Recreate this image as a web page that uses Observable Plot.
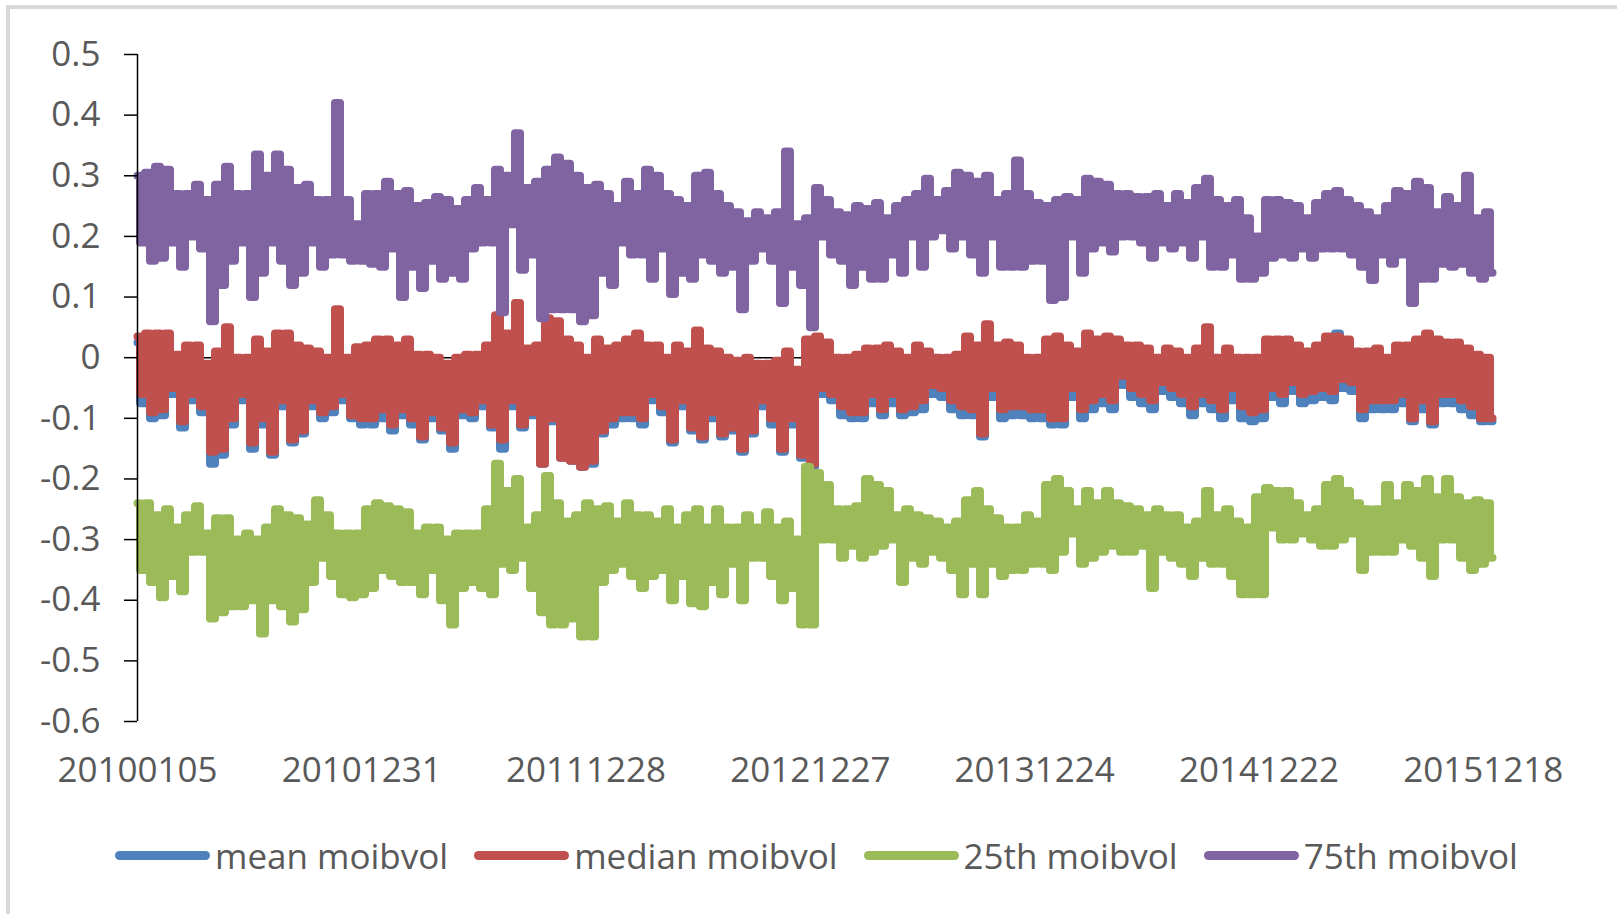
<!DOCTYPE html>
<html><head><meta charset="utf-8">
<script src="https://cdn.jsdelivr.net/npm/d3@7"></script>
<script src="https://cdn.jsdelivr.net/npm/@observablehq/plot@0.6"></script>
<style>
body{margin:0;background:#fff;font-family:"Open Sans",sans-serif;}
#frame{position:relative;width:1617px;height:914px;overflow:hidden;background:#fff;}
#border{position:absolute;left:6px;top:5px;width:1700px;height:1000px;border:4px solid #d9d9d9;box-sizing:border-box;}
#chart{position:absolute;left:0;top:0;}
#legend{position:absolute;left:115px;top:829px;height:52px;display:flex;align-items:center;gap:26px;font-size:35px;color:#595959;white-space:nowrap;}
.item{display:flex;align-items:center;}
.sw{width:95px;height:9px;border-radius:5px;margin-right:5px;}
</style></head><body>
<div id="frame"><div id="border"></div><div id="chart"></div><div id="legend"></div></div>
<script>
const seriesNames = ["mean moibvol", "median moibvol", "25th moibvol", "75th moibvol"];
const seriesColors = ["#4F81BD", "#C0504D", "#9BBB59", "#8064A2"];
const tickLabels = ["20100105", "20101231", "20111228", "20121227", "20131224", "20141222", "20151218"];
const daysPerTick = 242;
const totalDays = 1462;
const yTicks = [0.5, 0.4, 0.3, 0.2, 0.1, 0, -0.1, -0.2, -0.3, -0.4, -0.5, -0.6];

// each pair = (high, low) of the trace within one short stretch of trading days
const meanVals = [
0.025,-0.075, 0.03,-0.1, 0.03,-0.095, 0.03,-0.06, 0.0,-0.115, 0.01,-0.07, 0.01,-0.09, -0.02,-0.175, 0.0,-0.16, 0.04,-0.11,
-0.01,-0.07, -0.01,-0.15, 0.02,-0.11, 0.0,-0.16, 0.03,-0.08, 0.03,-0.14, 0.01,-0.125, 0.005,-0.08, 0.0,-0.1, -0.01,-0.09,
0.07,-0.07, -0.01,-0.1, 0.01,-0.11, 0.01,-0.11, 0.02,-0.1, 0.02,-0.12, 0.01,-0.095, 0.02,-0.11, 0.0,-0.135, 0.0,-0.1,
-0.01,-0.12, -0.02,-0.15, -0.01,-0.095, 0.0,-0.1, 0.0,-0.08, 0.01,-0.115, 0.06,-0.15, 0.03,-0.08, 0.08,-0.115, 0.01,-0.095,
0.01,-0.175, 0.055,-0.105, 0.05,-0.165, 0.02,-0.17, 0.01,-0.18, -0.01,-0.175, 0.02,-0.125, 0.005,-0.11, 0.01,-0.1, 0.02,-0.1,
0.03,-0.11, 0.01,-0.07, 0.01,-0.09, -0.01,-0.14, 0.01,-0.08, 0.0,-0.12, 0.035,-0.135, 0.005,-0.1, 0.0,-0.13, -0.01,-0.12,
-0.015,-0.155, -0.01,-0.125, -0.02,-0.08, -0.02,-0.11, -0.015,-0.155, 0.0,-0.11, -0.03,-0.165, 0.02,-0.18, 0.025,-0.06, 0.015,-0.07,
-0.01,-0.095, -0.01,-0.1, -0.005,-0.1, 0.005,-0.075, 0.005,-0.095, 0.01,-0.075, 0.0,-0.095, -0.01,-0.09, 0.01,-0.085, 0.0,-0.06,
-0.01,-0.065, -0.01,-0.085, -0.005,-0.095, 0.025,-0.095, 0.01,-0.13, 0.045,-0.065, 0.01,-0.1, 0.015,-0.095, 0.01,-0.095, -0.01,-0.1,
-0.01,-0.1, 0.02,-0.11, 0.025,-0.11, 0.01,-0.065, 0.0,-0.1, 0.03,-0.085, 0.02,-0.075, 0.025,-0.085, 0.02,-0.045, 0.01,-0.065,
0.01,-0.075, 0.005,-0.085, -0.01,-0.055, 0.005,-0.065, 0.0,-0.075, -0.01,-0.095, 0.005,-0.075, 0.04,-0.085, -0.01,-0.1, 0.005,-0.07,
-0.01,-0.1, -0.01,-0.105, -0.01,-0.1, 0.02,-0.065, 0.02,-0.075, 0.02,-0.055, 0.01,-0.075, 0.0,-0.07, 0.01,-0.065, 0.025,-0.07,
0.04,-0.05, 0.02,-0.055, 0.0,-0.1, 0.0,-0.085, 0.005,-0.085, -0.01,-0.085, 0.01,-0.075, 0.01,-0.105, 0.02,-0.085, 0.03,-0.11,
0.02,-0.075, 0.015,-0.075, 0.015,-0.085, 0.005,-0.095, -0.005,-0.105, -0.01,-0.105
];
const medianVals = [
0.035,-0.06, 0.04,-0.09, 0.04,-0.085, 0.04,-0.05, 0.005,-0.105, 0.02,-0.06, 0.02,-0.08, -0.01,-0.155, 0.01,-0.15, 0.05,-0.1,
0.0,-0.06, 0.0,-0.14, 0.03,-0.1, 0.01,-0.155, 0.04,-0.07, 0.04,-0.135, 0.02,-0.12, 0.015,-0.07, 0.01,-0.09, 0.0,-0.08,
0.08,-0.06, 0.0,-0.095, 0.017,-0.1, 0.02,-0.1, 0.03,-0.085, 0.03,-0.11, 0.02,-0.085, 0.03,-0.1, 0.005,-0.13, 0.005,-0.09,
0.0,-0.115, -0.01,-0.14, 0.0,-0.085, 0.005,-0.09, 0.005,-0.07, 0.02,-0.11, 0.07,-0.135, 0.04,-0.07, 0.09,-0.11, 0.015,-0.09,
0.02,-0.175, 0.065,-0.1, 0.06,-0.165, 0.03,-0.17, 0.02,-0.18, 0.0,-0.17, 0.03,-0.12, 0.015,-0.1, 0.02,-0.09, 0.03,-0.09,
0.04,-0.1, 0.02,-0.06, 0.02,-0.08, 0.0,-0.135, 0.02,-0.07, 0.01,-0.115, 0.045,-0.13, 0.015,-0.09, 0.01,-0.125, 0.0,-0.115,
-0.005,-0.15, 0.0,-0.12, -0.01,-0.07, -0.01,-0.1, -0.005,-0.15, 0.01,-0.1, -0.02,-0.16, 0.03,-0.175, 0.035,-0.05, 0.025,-0.06,
0.0,-0.08, 0.0,-0.09, 0.005,-0.09, 0.015,-0.06, 0.015,-0.085, 0.02,-0.06, 0.01,-0.085, 0.0,-0.08, 0.02,-0.07, 0.01,-0.045,
0.0,-0.05, 0.0,-0.07, 0.005,-0.08, 0.035,-0.085, 0.02,-0.125, 0.055,-0.05, 0.02,-0.085, 0.025,-0.08, 0.02,-0.08, 0.0,-0.085,
0.0,-0.085, 0.03,-0.1, 0.035,-0.1, 0.02,-0.05, 0.01,-0.085, 0.04,-0.07, 0.03,-0.06, 0.035,-0.07, 0.03,-0.03, 0.02,-0.05,
0.02,-0.06, 0.015,-0.07, 0.0,-0.04, 0.015,-0.05, 0.01,-0.06, 0.0,-0.08, 0.015,-0.06, 0.05,-0.07, 0.0,-0.085, 0.015,-0.05,
0.0,-0.08, 0.0,-0.09, 0.0,-0.085, 0.03,-0.05, 0.03,-0.06, 0.03,-0.04, 0.02,-0.06, 0.01,-0.055, 0.02,-0.05, 0.035,-0.055,
0.035,-0.035, 0.03,-0.04, 0.01,-0.085, 0.01,-0.07, 0.015,-0.07, 0.0,-0.07, 0.02,-0.06, 0.02,-0.1, 0.03,-0.07, 0.04,-0.105,
0.03,-0.06, 0.025,-0.06, 0.025,-0.07, 0.015,-0.08, 0.005,-0.1, 0.0,-0.1
];
const p25Vals = [
-0.24,-0.35, -0.24,-0.37, -0.26,-0.395, -0.25,-0.36, -0.28,-0.385, -0.26,-0.32, -0.245,-0.32, -0.29,-0.43, -0.265,-0.42, -0.265,-0.41,
-0.3,-0.41, -0.29,-0.40, -0.3,-0.455, -0.28,-0.40, -0.25,-0.41, -0.26,-0.435, -0.265,-0.415, -0.275,-0.37, -0.235,-0.33, -0.26,-0.36,
-0.29,-0.39, -0.29,-0.395, -0.29,-0.39, -0.25,-0.38, -0.24,-0.35, -0.245,-0.36, -0.25,-0.37, -0.255,-0.37, -0.29,-0.39, -0.28,-0.35,
-0.28,-0.40, -0.3,-0.44, -0.29,-0.38, -0.29,-0.37, -0.29,-0.38, -0.25,-0.39, -0.175,-0.34, -0.22,-0.35, -0.2,-0.33, -0.28,-0.38,
-0.26,-0.42, -0.195,-0.44, -0.24,-0.44, -0.27,-0.43, -0.26,-0.46, -0.24,-0.46, -0.25,-0.37, -0.245,-0.35, -0.27,-0.34, -0.24,-0.36,
-0.26,-0.38, -0.26,-0.36, -0.27,-0.35, -0.25,-0.40, -0.28,-0.36, -0.26,-0.405, -0.25,-0.41, -0.28,-0.37, -0.25,-0.39, -0.28,-0.34,
-0.28,-0.40, -0.26,-0.33, -0.28,-0.33, -0.255,-0.36, -0.28,-0.40, -0.27,-0.38, -0.3,-0.44, -0.18,-0.44, -0.19,-0.3, -0.21,-0.3,
-0.25,-0.33, -0.25,-0.31, -0.245,-0.33, -0.2,-0.32, -0.21,-0.31, -0.22,-0.3, -0.26,-0.37, -0.25,-0.33, -0.26,-0.34, -0.265,-0.32,
-0.27,-0.33, -0.28,-0.35, -0.27,-0.39, -0.235,-0.34, -0.22,-0.39, -0.25,-0.34, -0.265,-0.36, -0.28,-0.35, -0.28,-0.35, -0.26,-0.34,
-0.27,-0.34, -0.21,-0.35, -0.2,-0.32, -0.22,-0.29, -0.25,-0.34, -0.22,-0.33, -0.24,-0.32, -0.22,-0.31, -0.24,-0.32, -0.245,-0.32,
-0.25,-0.31, -0.26,-0.38, -0.25,-0.32, -0.26,-0.33, -0.26,-0.34, -0.28,-0.36, -0.27,-0.33, -0.22,-0.34, -0.26,-0.34, -0.25,-0.36,
-0.27,-0.39, -0.28,-0.39, -0.23,-0.39, -0.215,-0.28, -0.22,-0.3, -0.22,-0.3, -0.24,-0.29, -0.26,-0.3, -0.25,-0.31, -0.21,-0.31,
-0.2,-0.3, -0.22,-0.29, -0.24,-0.35, -0.25,-0.32, -0.25,-0.32, -0.21,-0.32, -0.24,-0.3, -0.21,-0.31, -0.22,-0.33, -0.2,-0.36,
-0.23,-0.3, -0.2,-0.3, -0.23,-0.33, -0.24,-0.35, -0.235,-0.34, -0.24,-0.33
];
const p75Vals = [
0.30,0.19, 0.305,0.16, 0.315,0.165, 0.31,0.19, 0.27,0.15, 0.27,0.2, 0.285,0.18, 0.26,0.06, 0.285,0.12, 0.315,0.16,
0.27,0.19, 0.27,0.1, 0.335,0.14, 0.30,0.19, 0.335,0.16, 0.31,0.12, 0.28,0.14, 0.285,0.19, 0.26,0.15, 0.26,0.17,
0.42,0.17, 0.26,0.16, 0.22,0.16, 0.27,0.155, 0.27,0.15, 0.29,0.18, 0.27,0.1, 0.275,0.15, 0.25,0.115, 0.255,0.16,
0.265,0.13, 0.26,0.14, 0.245,0.13, 0.26,0.18, 0.28,0.19, 0.26,0.19, 0.31,0.075, 0.3,0.22, 0.37,0.145, 0.28,0.17,
0.29,0.065, 0.31,0.08, 0.33,0.08, 0.32,0.08, 0.3,0.06, 0.28,0.07, 0.285,0.14, 0.27,0.12, 0.25,0.19, 0.29,0.17,
0.27,0.17, 0.31,0.13, 0.3,0.18, 0.27,0.105, 0.26,0.14, 0.25,0.13, 0.3,0.17, 0.305,0.16, 0.27,0.14, 0.25,0.15,
0.24,0.08, 0.225,0.16, 0.24,0.18, 0.23,0.16, 0.24,0.09, 0.34,0.15, 0.22,0.12, 0.23,0.05, 0.28,0.2, 0.26,0.17,
0.24,0.16, 0.235,0.12, 0.25,0.15, 0.245,0.13, 0.255,0.13, 0.23,0.17, 0.25,0.14, 0.26,0.2, 0.27,0.15, 0.295,0.2,
0.26,0.21, 0.275,0.18, 0.305,0.2, 0.3,0.17, 0.29,0.14, 0.3,0.2, 0.26,0.15, 0.27,0.15, 0.325,0.15, 0.27,0.16,
0.255,0.16, 0.25,0.095, 0.26,0.1, 0.265,0.2, 0.26,0.14, 0.295,0.18, 0.29,0.19, 0.285,0.175, 0.27,0.2, 0.27,0.2,
0.265,0.19, 0.265,0.165, 0.27,0.19, 0.25,0.18, 0.27,0.19, 0.255,0.165, 0.28,0.2, 0.295,0.15, 0.26,0.15, 0.25,0.17,
0.26,0.13, 0.23,0.13, 0.2,0.14, 0.26,0.165, 0.26,0.17, 0.255,0.165, 0.25,0.18, 0.23,0.165, 0.255,0.18, 0.27,0.18,
0.275,0.18, 0.26,0.17, 0.25,0.15, 0.24,0.128, 0.23,0.17, 0.25,0.155, 0.275,0.17, 0.27,0.09, 0.29,0.13, 0.28,0.13,
0.24,0.155, 0.265,0.15, 0.25,0.155, 0.30,0.14, 0.23,0.13, 0.24,0.14
];

const allVals = [meanVals, medianVals, p25Vals, p75Vals];
const rows = allVals.map((vals, s) => vals.map((v, i) => ({
  day: i * totalDays / (vals.length - 1), value: v, series: seriesNames[s]
})));
const tickDays = tickLabels.map((_, k) => k * daysPerTick);
const fmtY = d => d === 0 ? "0" : d.toFixed(1);
const font = '"Open Sans", sans-serif';

const chart = Plot.plot({
  width: 1617, height: 800,
  marginLeft: 137, marginRight: 125, marginTop: 54, marginBottom: 79,
  style: {fontFamily: font, fontSize: "35px", color: "#595959", background: "transparent", overflow: "visible"},
  x: {domain: [0, totalDays]},
  y: {domain: [-0.6, 0.5]},
  marks: [
    Plot.ruleY([0], {stroke: "#000", strokeWidth: 1.5}),
    ...rows.map((r, s) => Plot.line(r, {x: "day", y: "value", curve: "step", stroke: seriesColors[s], strokeWidth: 8, strokeLinejoin: "round", strokeLinecap: "round"})),
    Plot.ruleX([0], {stroke: "#000", strokeWidth: 1.5}),
    Plot.axisY({ticks: yTicks, tickSize: 13, tickPadding: 24, tickFormat: fmtY, stroke: "#000", strokeWidth: 1.5, strokeOpacity: 1, label: null, fontSize: 35}),
    Plot.axisX({ticks: tickDays, tickSize: 0, tickPadding: 36, tickFormat: d => tickLabels[Math.round(d / daysPerTick)], label: null, fontSize: 35})
  ]
});
document.getElementById("chart").appendChild(chart);

const legend = document.getElementById("legend");
seriesNames.forEach((name, s) => {
  const item = document.createElement("div");
  item.className = "item";
  const sw = document.createElement("div");
  sw.className = "sw";
  sw.style.background = seriesColors[s];
  const t = document.createElement("span");
  t.textContent = name;
  item.appendChild(sw); item.appendChild(t);
  legend.appendChild(item);
});
</script>
</body></html>
